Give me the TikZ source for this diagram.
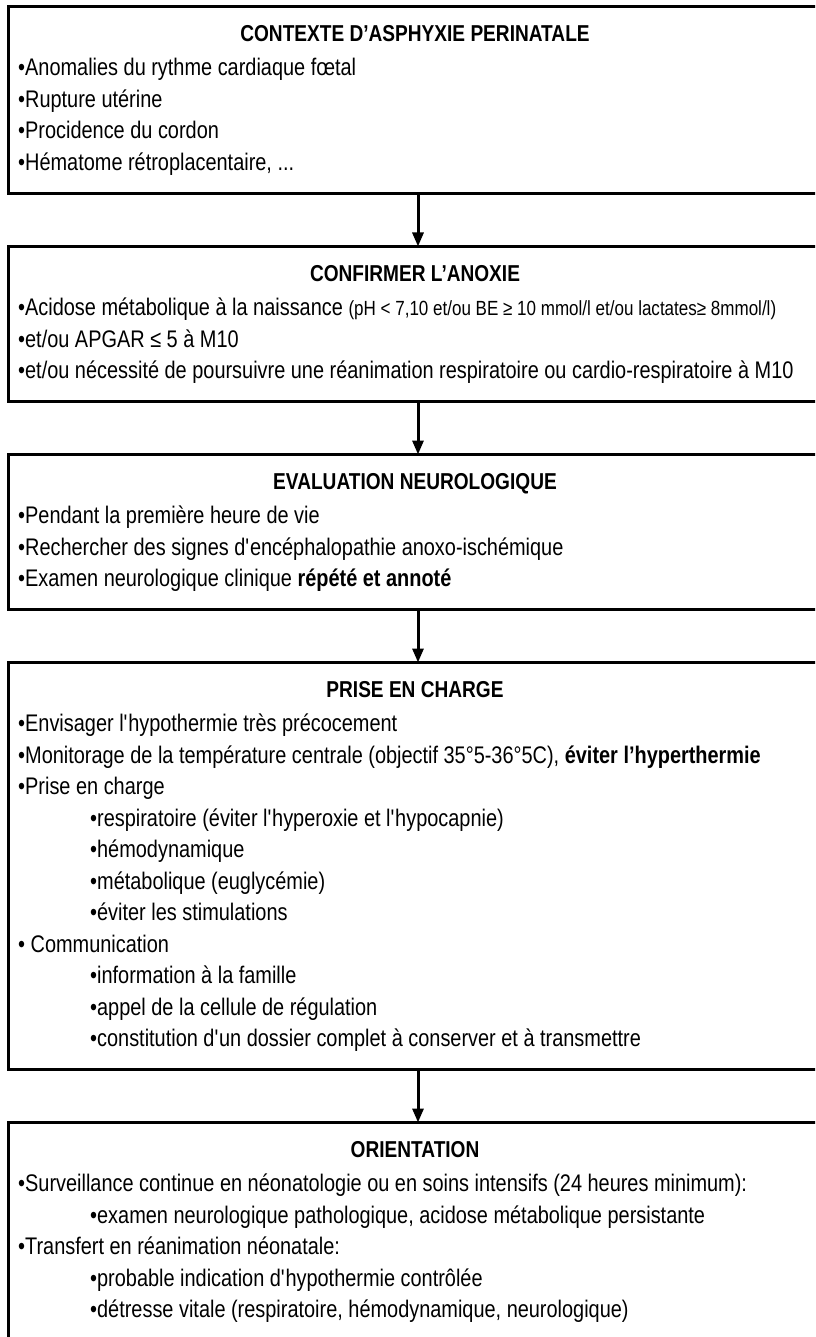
\documentclass[tikz,border=0pt]{standalone}
\usepackage{fontspec}
\setmainfont{Liberation Sans}[FakeStretch=0.83]
\usetikzlibrary{arrows.meta}
\newcommand{\ap}{\textquotesingle}
\begin{document}
\begin{tikzpicture}[x=1pt,y=-1pt,
  box/.style={draw, line width=3pt, anchor=north west, minimum width=830pt, inner sep=0pt, outer sep=0pt},
  ttl/.style={anchor=base, inner sep=0pt, font=\fontsize{23}{26}\selectfont\bfseries},
  txt/.style={anchor=base west, inner sep=0pt, font=\fontsize{24}{27}\selectfont},
  arr/.style={line width=3pt, -{Triangle[width=11pt,length=14pt]}}
]
\useasboundingbox (0,0) rectangle (815,1337);
\clip (0,0) rectangle (815,1337);
\fill[white] (0,0) rectangle (815,1337);
% boxes
\node[box, minimum height=186.5pt] (b1) at (8,7) {};
\node[box, minimum height=155pt] (b2) at (8,246.5) {};
\node[box, minimum height=155pt] (b3) at (8,454.5) {};
\node[box, minimum height=407pt] (b4) at (8,662.5) {};
\node[box, minimum height=218pt] (b5) at (8,1122.5) {};
% arrows
\coordinate (ax) at (418,0);
\draw[arr] (b1.south -| ax) -- (b2.north -| ax);
\draw[arr] (b2.south -| ax) -- (b3.north -| ax);
\draw[arr] (b3.south -| ax) -- (b4.north -| ax);
\draw[arr] (b4.south -| ax) -- (b5.north -| ax);
% box 1
\node[ttl] (t1) at (415,42) {CONTEXTE D’ASPHYXIE PERINATALE};
\node[txt] (t1a) at (18,76) {•Anomalies du rythme cardiaque fœtal};
\node[txt] (t1b) at (18,107.5) {•Rupture utérine};
\node[txt] (t1c) at (18,139) {•Procidence du cordon};
\node[txt] (t1d) at (18,170.5) {•Hématome rétroplacentaire, ...};
% box 2
\node[ttl] (t2) at (415,281.5) {CONFIRMER L’ANOXIE};
\node[txt] (t2a) at (18,315.5) {•Acidose métabolique à la naissance {\fontsize{20.5}{23}\selectfont (pH < 7,10 et/ou BE ≥ 10 mmol/l et/ou lactates≥ 8mmol/l)}};
\node[txt] (t2b) at (18,347) {•et/ou APGAR ≤ 5 à M10};
\node[txt] (t2c) at (18,378.5) {•et/ou nécessité de poursuivre une réanimation respiratoire ou cardio-respiratoire à M10};
% box 3
\node[ttl] (t3) at (415,489.5) {EVALUATION NEUROLOGIQUE};
\node[txt] (t3a) at (18,523.5) {•Pendant la première heure de vie};
\node[txt] (t3b) at (18,555) {•Rechercher des signes d\ap encéphalopathie anoxo-ischémique};
\node[txt] (t3c) at (18,586.5) {•Examen neurologique clinique \textbf{répété et annoté}};
% box 4
\node[ttl] (t4) at (415,697.5) {PRISE EN CHARGE};
\node[txt] (t4a) at (18,731.5) {•Envisager l\ap hypothermie très précocement};
\node[txt] (t4b) at (18,763) {•Monitorage de la température centrale (objectif 35°5-36°5C), \textbf{éviter l’hyperthermie}};
\node[txt] (t4c) at (18,794.5) {•Prise en charge};
\node[txt] (t4d) at (90,826) {•respiratoire (éviter l\ap hyperoxie et l\ap hypocapnie)};
\node[txt] (t4e) at (90,857.5) {•hémodynamique};
\node[txt] (t4f) at (90,889) {•métabolique (euglycémie)};
\node[txt] (t4g) at (90,920.5) {•éviter les stimulations};
\node[txt] (t4h) at (18,952) {• Communication};
\node[txt] (t4i) at (90,983.5) {•information à la famille};
\node[txt] (t4j) at (90,1015) {•appel de la cellule de régulation};
\node[txt] (t4k) at (90,1046.5) {•constitution d\ap un dossier complet à conserver et à transmettre};
% box 5
\node[ttl] (t5) at (415,1157.5) {ORIENTATION};
\node[txt] (t5a) at (18,1191.5) {•Surveillance continue en néonatologie ou en soins intensifs (24 heures minimum):};
\node[txt] (t5b) at (90,1223) {•examen neurologique pathologique, acidose métabolique persistante};
\node[txt] (t5c) at (18,1254.5) {•Transfert en réanimation néonatale:};
\node[txt] (t5d) at (90,1286) {•probable indication d\ap hypothermie contrôlée};
\node[txt] (t5e) at (90,1317.5) {•détresse vitale (respiratoire, hémodynamique, neurologique)};
\end{tikzpicture}
\end{document}
